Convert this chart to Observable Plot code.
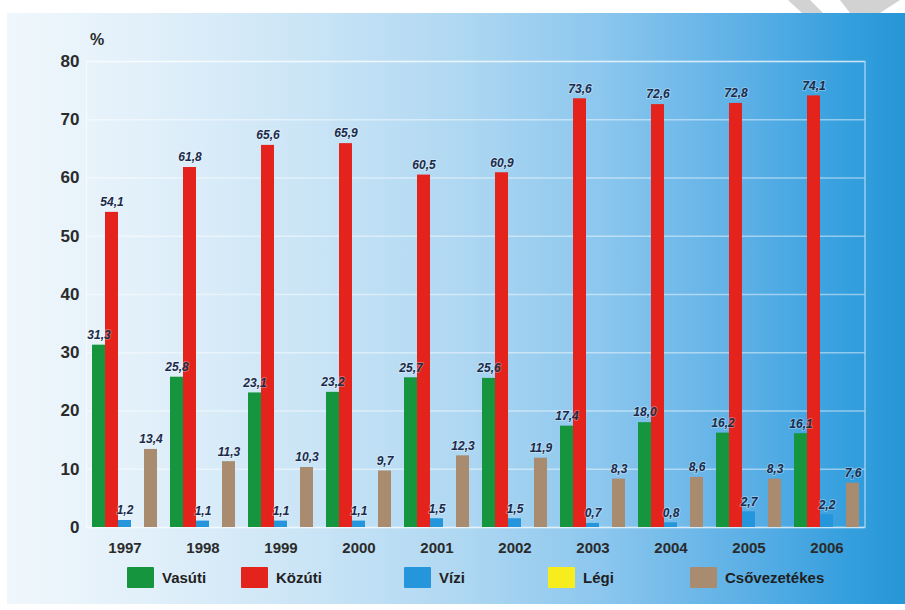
<!DOCTYPE html>
<html>
<head>
<meta charset="utf-8">
<script src="https://cdn.jsdelivr.net/npm/d3@7"></script>
<script src="https://cdn.jsdelivr.net/npm/@observablehq/plot@0.6"></script>
<style>
  html, body { margin: 0; padding: 0; background: #fff; }
  body { width: 905px; height: 610px; position: relative; overflow: hidden; font-family: "Liberation Sans", Arial, sans-serif; }
  #panel { position: absolute; left: 7px; top: 13px; width: 898px; height: 591px;
    background: linear-gradient(to right, #f0f7fc 0%, #e2f0fa 15%, #cbe5f6 33%, #b0d8f2 50%, #8cc7ee 66%, #5db0e6 82%, #37a0de 93%, #2596d7 100%); }
  #deco { position: absolute; left: 0; top: 0; }
  .layer { position: absolute; left: 0; top: 0; }
  .layer svg { background: transparent !important; overflow: visible; }
  #grid svg text { font-size: 17px; font-weight: bold; fill: #2b2b2b; }
  #pct { position: absolute; left: 90px; top: 31px; font-size: 16px; font-weight: bold; color: #2b2b2b; }
  .leg { position: absolute; top: 567px; display: flex; align-items: center; font-size: 15px; font-weight: bold; color: #1f1f1f; }
  .leg span.sw { display: inline-block; width: 27px; height: 21px; margin-right: 8px; border-radius: 1px; }
</style>
</head>
<body>
<div id="panel"></div>
<svg id="deco" width="905" height="13">
  <polygon points="788,0 810,0 823,13 802,13" fill="#d2d2d2"/>
  <polygon points="840,0 900,0 880,13 850,13" fill="#d2d2d2"/>
</svg>
<div id="grid" class="layer"></div>
<div id="bars" class="layer"></div>
<div id="pct">%</div>
<div id="legend"></div>
<script>
const years = [1997, 1998, 1999, 2000, 2001, 2002, 2003, 2004, 2005, 2006];
const series = ["Vasúti", "Közúti", "Vízi", "Légi", "Csővezetékes"];
const vasuti = [31.3, 25.8, 23.1, 23.2, 25.7, 25.6, 17.4, 18.0, 16.2, 16.1];
const kozuti = [54.1, 61.8, 65.6, 65.9, 60.5, 60.9, 73.6, 72.6, 72.8, 74.1];
const vizi = [1.2, 1.1, 1.1, 1.1, 1.5, 1.5, 0.7, 0.8, 2.7, 2.2];
const legi = [0, 0, 0, 0, 0, 0, 0, 0, 0, 0];
const csovezetekes = [13.4, 11.3, 10.3, 9.7, 12.3, 11.9, 8.3, 8.6, 8.3, 7.6];
const yTicks = [0, 10, 20, 30, 40, 50, 60, 70, 80];
const colors = ["#15953d", "#e4241c", "#2595dc", "#f7ec1e", "#a98b6f"];

const values = [vasuti, kozuti, vizi, legi, csovezetekes];
const data = [];
years.forEach((y, i) => series.forEach((s, j) => data.push({year: y, series: s, value: values[j][i]})));
const fmt = v => v.toFixed(1).replace(".", ",");

const W = 905, H = 565, ML = 86, MR = 40.5, MT = 61, MB = 38;

const grid = Plot.plot({
  width: W, height: H, marginLeft: ML, marginRight: MR, marginTop: MT, marginBottom: MB,
  style: {background: "transparent", fontFamily: "Liberation Sans, Arial, sans-serif"},
  x: {axis: null, domain: [0, 1]},
  y: {domain: [0, 80], ticks: yTicks, label: null, tickSize: 0, tickPadding: 7, tickFormat: d => d},
  marks: [
    Plot.ruleY(yTicks, {stroke: "#ffffff", strokeOpacity: 0.45, strokeWidth: 1.5}),
    Plot.frame({stroke: "#ffffff", strokeOpacity: 0.5, strokeWidth: 1.5})
  ]
});
document.getElementById("grid").appendChild(grid);

const bars = Plot.plot({
  width: W, height: H, marginLeft: ML, marginRight: MR, marginTop: MT, marginBottom: MB,
  style: {background: "transparent", fontFamily: "Liberation Sans, Arial, sans-serif"},
  fx: {domain: years, paddingInner: 0.17, paddingOuter: 0.075, label: null, axis: "bottom", tickSize: 0, tickPadding: 15, tickFormat: d => String(d)},
  x: {domain: series, padding: 0, axis: null},
  y: {domain: [0, 80], axis: null},
  color: {domain: series, range: colors},
  facet: {data: data, x: "year", label: null},
  marks: [
    Plot.barY(data, {x: "series", y: "value", fill: "series", insetLeft: 0, insetRight: 0}),
    Plot.text(data, {
      filter: d => d.series !== "Légi",
      x: "series", y: "value", text: d => fmt(d.value), dy: -10,
      fontSize: 12, fontWeight: "bold", fontStyle: "italic", fill: "#1c2b4a",
      stroke: "#ffffff", strokeOpacity: 0.3, strokeWidth: 2
    })
  ]
});
document.getElementById("bars").appendChild(bars);

// style fx axis labels (year labels)
bars.querySelectorAll("text").forEach(t => {
  if (/^\d{4}$/.test(t.textContent.trim())) {
    t.style.fontSize = "15px"; t.style.fontWeight = "bold"; t.style.fill = "#2b2b2b"; t.style.fontStyle = "normal";
  }
});

const legendLeft = [127, 241, 404, 548, 690];
const legend = document.getElementById("legend");
series.forEach((s, i) => {
  const el = document.createElement("div");
  el.className = "leg";
  el.style.left = legendLeft[i] + "px";
  const sw = document.createElement("span");
  sw.className = "sw"; sw.style.background = colors[i];
  el.appendChild(sw);
  el.appendChild(document.createTextNode(s));
  legend.appendChild(el);
});
</script>
</body>
</html>
